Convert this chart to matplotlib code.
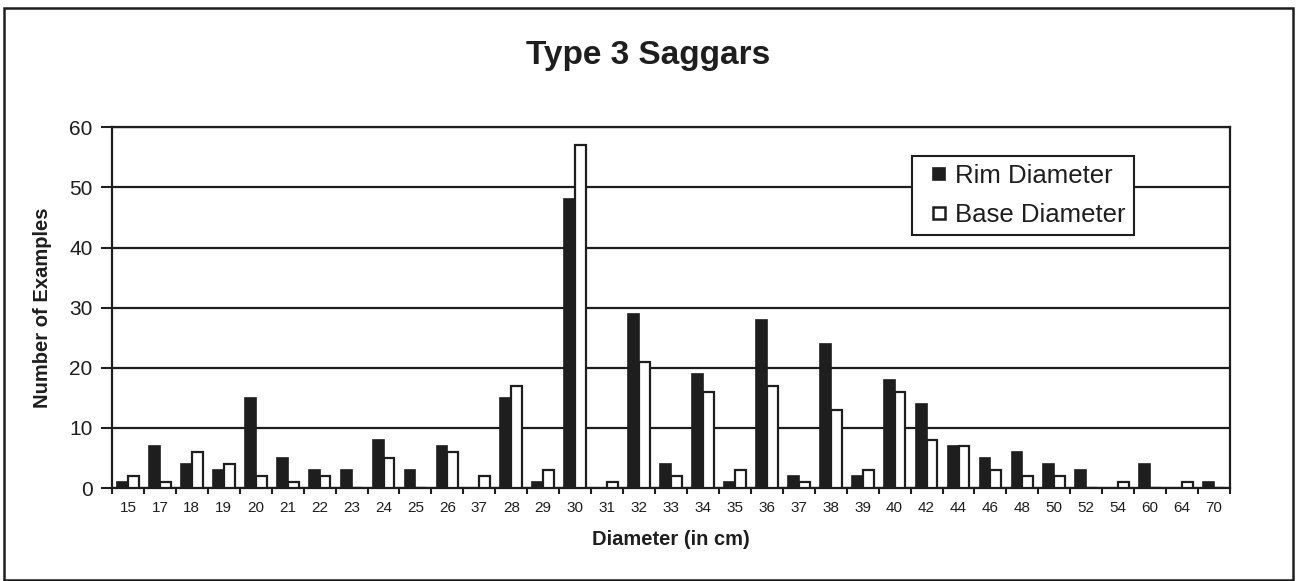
import matplotlib
matplotlib.use("Agg")
from matplotlib import pyplot as plt
from matplotlib.patches import Rectangle
from matplotlib.lines import Line2D
import numpy as np

plt.rcParams['font.family'] = ['Liberation Sans', 'DejaVu Sans']

####
# data
####
diameters = ["15", "17", "18", "19", "20", "21", "22", "23", "24", "25", "26", "37",
             "28", "29", "30", "31", "32", "33", "34", "35", "36", "37", "38", "39",
             "40", "42", "44", "46", "48", "50", "52", "54", "60", "64", "70"]
rim = [1, 7, 4, 3, 15, 5, 3, 3, 8, 3, 7, 0,
       15, 1, 48, 0, 29, 4, 19, 1, 28, 2, 24, 2,
       18, 14, 7, 5, 6, 4, 3, 0, 4, 0, 1]
base = [2, 1, 6, 4, 2, 1, 2, 0, 5, 0, 6, 2,
        17, 3, 57, 1, 21, 2, 16, 3, 17, 1, 13, 3,
        16, 8, 7, 3, 2, 2, 0, 1, 0, 1, 0]

ink = "#1e1e1e"

fig = plt.figure(figsize=(12.96, 5.81), dpi=100)
ax = fig.add_axes([0.0864, 0.160, 0.8627, 0.621])

x = np.arange(len(diameters))
w = 0.34
ax.bar(x - w / 2, rim, width=w, color=ink, edgecolor=ink, linewidth=1.2, zorder=3)
ax.bar(x + w / 2, base, width=w, color="white", edgecolor=ink, linewidth=1.6, zorder=3)

ax.set_xlim(-0.5, len(diameters) - 0.5)
ax.set_ylim(0, 60)
ax.set_yticks(range(0, 61, 10))
ax.yaxis.grid(True, color=ink, linewidth=1.6, zorder=1)
ax.tick_params(axis="y", direction="out", length=8, width=1.5, color=ink,
               labelsize=15, pad=6, labelcolor=ink)

# ticks between categories, labels at centres
ax.set_xticks(np.arange(-0.5, len(diameters), 1.0))
ax.set_xticklabels([])
ax.set_xticks(x, minor=True)
ax.set_xticklabels(diameters, minor=True)
ax.tick_params(axis="x", which="major", direction="out", length=4, width=1.5, color=ink)
ax.tick_params(axis="x", which="minor", length=0, labelsize=11, pad=9, labelcolor=ink)

for s in ax.spines.values():
    s.set_color(ink)
    s.set_linewidth(1.6)

ax.set_xlabel("Diameter (in cm)", fontsize=14.5, fontweight="bold", color=ink, labelpad=11)
ax.set_ylabel("Number of Examples", fontsize=14.5, fontweight="bold", color=ink, labelpad=12)

fig.suptitle("Type 3 Saggars", x=0.5, y=0.932, fontsize=24, fontweight="bold", color=ink)

handles = [
    Line2D([], [], linestyle="none", marker="s", markersize=8.5,
           markerfacecolor=ink, markeredgecolor=ink, markeredgewidth=1.2),
    Line2D([], [], linestyle="none", marker="s", markersize=8.5,
           markerfacecolor="white", markeredgecolor=ink, markeredgewidth=1.8),
]
leg = ax.legend(handles, ["Rim Diameter", "Base Diameter"],
                loc="upper left", bbox_to_anchor=(0.7155, 0.92), fontsize=18.5,
                frameon=True, fancybox=False, edgecolor=ink, framealpha=1,
                handlelength=1.5, handletextpad=-0.13,
                borderpad=0.31, labelspacing=0.6, borderaxespad=0)
leg.get_frame().set_linewidth(1.5)
for t in leg.get_texts():
    t.set_color(ink)

fig.patches.append(Rectangle((0.003, 0.002), 0.995, 0.985, transform=fig.transFigure,
                             fill=False, edgecolor=ink, linewidth=1.8))

fig.savefig("out.png", dpi=100)
